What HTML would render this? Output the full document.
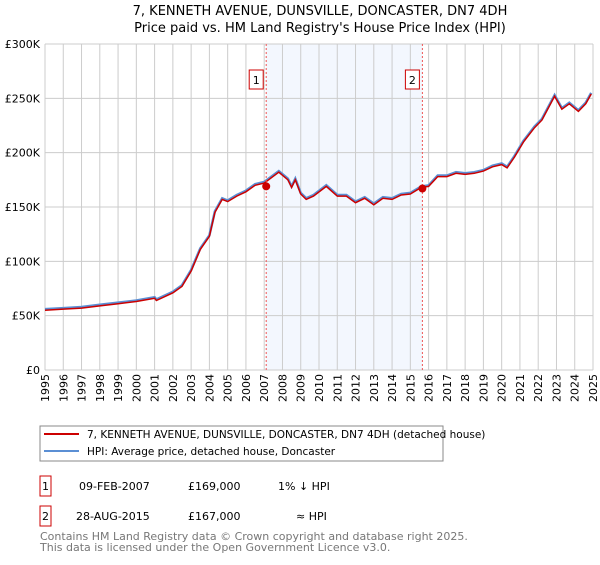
<!DOCTYPE html>
<html><head><meta charset="utf-8"><style>
body{margin:0;background:#fff;font-family:"Liberation Sans","DejaVu Sans",sans-serif;}
svg text{font-family:"DejaVu Sans","Liberation Sans",sans-serif;}
</style></head><body>
<svg id="chart" width="600" height="560" xmlns="http://www.w3.org/2000/svg">
<text x="320" y="15" text-anchor="middle" font-size="13" fill="#000">7, KENNETH AVENUE, DUNSVILLE, DONCASTER, DN7 4DH</text>
<text x="320" y="32" text-anchor="middle" font-size="13" fill="#000">Price paid vs. HM Land Registry's House Price Index (HPI)</text>
<g id="bg"></g><g id="grid"></g><g id="axes"></g><g id="series"></g><g id="marks"></g>
<g>
<rect x="40" y="426" width="403" height="35" fill="#fff" stroke="#888"/>
<line x1="44" y1="434" x2="79" y2="434" stroke="#cc0000" stroke-width="2"/>
<text x="87" y="438" font-size="10.5">7, KENNETH AVENUE, DUNSVILLE, DONCASTER, DN7 4DH (detached house)</text>
<line x1="44" y1="451" x2="79" y2="451" stroke="#5b8fd4" stroke-width="2"/>
<text x="87" y="455" font-size="10.5">HPI: Average price, detached house, Doncaster</text>
</g>
<g font-size="11">
<rect x="40" y="476" width="11" height="20" fill="#fff" stroke="#cc0000"/><text x="45.5" y="490" text-anchor="middle">1</text>
<text x="79" y="490">09-FEB-2007</text><text x="188" y="490">£169,000</text><text x="278" y="490">1% ↓ HPI</text>
<rect x="40" y="506" width="11" height="20" fill="#fff" stroke="#cc0000"/><text x="45.5" y="520" text-anchor="middle">2</text>
<text x="76" y="520">28-AUG-2015</text><text x="188" y="520">£167,000</text><text x="296" y="520">≈ HPI</text>
</g>
<text x="40" y="540" font-size="11" fill="#777">Contains HM Land Registry data © Crown copyright and database right 2025.</text>
<text x="40" y="551" font-size="11" fill="#777">This data is licensed under the Open Government Licence v3.0.</text>
</svg>
<script>
const years=[1995,1996,1997,1998,1999,2000,2001,2001.1,2002,2002.5,2003,2003.5,2004,2004.3,2004.7,2005,2005.5,2006,2006.5,2007,2007.8,2008.3,2008.5,2008.7,2009,2009.3,2009.7,2010.4,2011,2011.5,2012,2012.5,2013,2013.5,2014,2014.5,2015,2015.6,2016,2016.5,2017,2017.5,2018,2018.5,2019,2019.5,2020,2020.3,2020.7,2021.2,2021.8,2022.2,2022.9,2023.3,2023.7,2024.2,2024.6,2024.9];
const hpi=[56,57,58,60,62,64,67,65,72,78,92,112,124,146,158,156,161,165,171,173,183,176,169,176,163,158,161,170,161,161,155,159,153,159,158,162,163,169,170,179,179,182,181,182,184,188,190,187,197,211,224,231,253,241,246,239,246,255];
const price=[55,56,57,59,61,63,66,64,71,77,91,111,123,145,157,155,160,164,170,172,182,175,168,175,162,157,160,169,160,160,154,158,152,158,157,161,162,168,169,178,178,181,180,181,183,187,189,186,196,210,223,230,252,240,245,238,245,254];
const saleDates=[2007.11,2015.66];
const salePrices=[169,167];
const yTicks=[0,50,100,150,200,250,300];
const xTicks=[1995,1996,1997,1998,1999,2000,2001,2002,2003,2004,2005,2006,2007,2008,2009,2010,2011,2012,2013,2014,2015,2016,2017,2018,2019,2020,2021,2022,2023,2024,2025];
const X0=45,X1=593,Y0=370,Y1=44;
const sx=v=>X0+(v-1995)/30*(X1-X0);
const sy=v=>Y0-v/300*(Y0-Y1);
const NS="http://www.w3.org/2000/svg";
function mk(p,t,a){const e=document.createElementNS(NS,t);for(const k in a)e.setAttribute(k,a[k]);document.getElementById(p).appendChild(e);return e;}
let r=mk('bg','rect',{x:sx(saleDates[0]),y:Y1,width:sx(saleDates[1])-sx(saleDates[0]),height:Y0-Y1,fill:'#eef3fd',opacity:0.7});


xTicks.forEach(t=>{
 let l=mk('grid','line',{x1:sx(t),x2:sx(t),y1:Y1,y2:Y0,stroke:'#ccc'});
 
 
 let x=sx(t),tx=mk('axes','text',{x:0,y:0,'font-size':11,'text-anchor':'end',transform:`translate(${x+4},${Y0+4}) rotate(-90)`});
 tx.textContent=t;
 
 
});
yTicks.forEach(t=>{
 let l=mk('grid','line',{x1:X0,x2:X1,y1:sy(t),y2:sy(t),stroke:'#ccc'});
 
 
 let tx=mk('axes','text',{x:40,y:sy(t)+4,'font-size':11,'text-anchor':'end'});
 tx.textContent=t===0?'£0':'£'+t+'K';
 
 
});
const pts=a=>a.map((v,i)=>sx(years[i]).toFixed(1)+','+sy(v).toFixed(1)).join(' ');
let h=mk('series','polyline',{points:pts(hpi),fill:'none',stroke:'#5b8fd4','stroke-width':2.5});


let p=mk('series','polyline',{points:pts(price),fill:'none',stroke:'#cc0000','stroke-width':1.5});


saleDates.forEach((d,i)=>{
 let l=mk('marks','line',{x1:sx(d),x2:sx(d),y1:Y1,y2:Y0,stroke:'#ee5555','stroke-dasharray':'2,2'});
 
 
 let c=mk('marks','circle',{cx:sx(d),cy:sy(salePrices[i]),r:4,fill:'#cc0000'});
 
 
 let b=mk('marks','rect',{x:sx(d)-17,y:70,width:14,height:19,fill:'#fff',stroke:'#cc0000'});
 
 
 let t=mk('marks','text',{x:sx(d)-10,y:84,'font-size':11,'text-anchor':'middle'});
 t.textContent=String(i+1);
 
 
});
</script>
</body></html>
